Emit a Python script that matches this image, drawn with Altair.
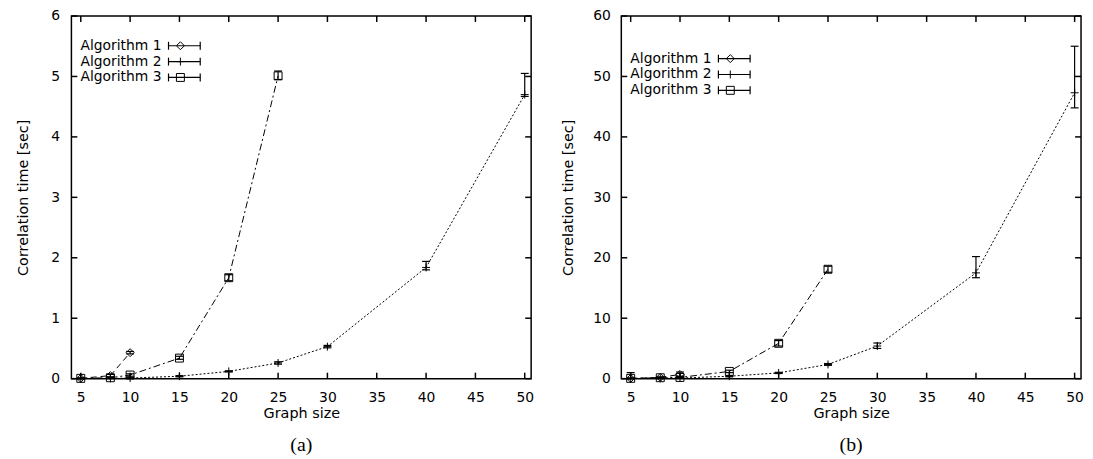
import altair as alt
import pandas as pd

# ---------------- data ----------------
SERIES = ["Algorithm 1", "Algorithm 2", "Algorithm 3"]
X_TICKS = [5, 10, 15, 20, 25, 30, 35, 40, 45, 50]

# panel (a)
A_ALG1_X = [5, 8, 10]
A_ALG1_Y = [0.005, 0.05, 0.43]
A_ALG1_LO = [0.0, 0.03, 0.41]
A_ALG1_HI = [0.01, 0.07, 0.45]

A_ALG2_X = [5, 8, 10, 15, 20, 25, 30, 40, 50]
A_ALG2_Y = [0.002, 0.004, 0.01, 0.04, 0.12, 0.26, 0.53, 1.84, 4.70]
A_ALG2_LO = [0.0, 0.0, 0.005, 0.03, 0.11, 0.24, 0.51, 1.80, 4.67]
A_ALG2_HI = [0.004, 0.008, 0.015, 0.05, 0.13, 0.28, 0.55, 1.94, 5.05]

A_ALG3_X = [5, 8, 10, 15, 20, 25]
A_ALG3_Y = [0.005, 0.015, 0.06, 0.34, 1.67, 5.01]
A_ALG3_LO = [0.0, 0.005, 0.04, 0.32, 1.62, 4.95]
A_ALG3_HI = [0.01, 0.025, 0.08, 0.37, 1.72, 5.09]

A_Y_TICKS = [0, 1, 2, 3, 4, 5, 6]

# panel (b)
B_ALG1_X = [5, 8, 10]
B_ALG1_Y = [0.05, 0.2, 0.7]
B_ALG1_LO = [0.0, 0.1, 0.4]
B_ALG1_HI = [0.1, 0.3, 1.1]

B_ALG2_X = [5, 8, 10, 15, 20, 25, 30, 40, 50]
B_ALG2_Y = [0.02, 0.05, 0.1, 0.4, 0.95, 2.35, 5.4, 17.5, 47.3]
B_ALG2_LO = [0.0, 0.02, 0.05, 0.3, 0.85, 2.2, 5.0, 16.7, 44.8]
B_ALG2_HI = [1.0, 0.1, 0.2, 0.5, 1.05, 2.5, 5.9, 20.2, 55.0]

B_ALG3_X = [5, 8, 10, 15, 20, 25]
B_ALG3_Y = [0.05, 0.15, 0.2, 1.2, 5.85, 18.1]
B_ALG3_LO = [0.0, 0.1, 0.1, 1.0, 5.4, 17.6]
B_ALG3_HI = [0.1, 0.2, 0.3, 1.4, 6.3, 18.6]

B_Y_TICKS = [0, 10, 20, 30, 40, 50, 60]

# ---------------- styling ----------------
W, H = 464, 366
FONT = "DejaVu Sans"
DASHES = [[6, 4], [2, 2], [7, 3, 2, 3]]
SHAPES = ["diamond", "M-1,0L1,0M0,-1L0,1", "square"]
CAP = "M-1,0L1,0"
X_TITLE = "Graph size"
Y_TITLE = "Correlation time [sec]"


def panel(series, y_max, y_ticks, legend_top, caption, label_pad, y_title_pad):
    xs = alt.Scale(domain=[4.05, 50.65], nice=False, zero=False)
    ys = alt.Scale(domain=[0, y_max], nice=False, zero=False)
    xaxis = alt.Axis(values=X_TICKS, ticks=False, domain=False, grid=False,
                     labelPadding=12, titlePadding=2, labelFlush=False,
                     labelOverlap=False, format="d")
    yaxis = alt.Axis(values=y_ticks, ticks=False, domain=False, grid=False,
                     labelPadding=label_pad, titlePadding=y_title_pad, labelFlush=False,
                     labelOverlap=False, format="d")

    def X(f):
        return alt.X(f, type="quantitative", scale=xs, axis=xaxis, title=X_TITLE)

    def Y(f):
        return alt.Y(f, type="quantitative", scale=ys, axis=yaxis, title=Y_TITLE)

    layers = []
    for i, (xv, yv, lo, hi) in enumerate(series):
        df = pd.DataFrame({"x": xv, "y": yv, "lo": lo, "hi": hi})
        base = alt.Chart(df)
        layers.append(base.mark_line(color="black", strokeWidth=1, strokeDash=DASHES[i])
                      .encode(x=X("x"), y=Y("y")))
        layers.append(base.mark_rule(color="black", strokeWidth=1.2)
                      .encode(x=X("x"), y=Y("lo"), y2="hi"))
        layers.append(base.mark_point(shape=CAP, size=64, filled=False, color="black",
                                      strokeWidth=1.2, opacity=1)
                      .encode(x=X("x"), y=Y("lo")))
        layers.append(base.mark_point(shape=CAP, size=64, filled=False, color="black",
                                      strokeWidth=1.2, opacity=1)
                      .encode(x=X("x"), y=Y("hi")))
        layers.append(base.mark_point(shape=SHAPES[i], size=64, filled=False, color="black",
                                      strokeWidth=1, opacity=1)
                      .encode(x=X("x"), y=Y("y")))

    # inward (gnuplot style) ticks on all four sides
    xt = alt.Chart(pd.DataFrame({"t": X_TICKS}))
    yt = alt.Chart(pd.DataFrame({"t": y_ticks}))
    tick = dict(color="black", strokeWidth=1.5)
    layers.append(xt.mark_rule(**tick).encode(x=X("t"), y=alt.value(H), y2=alt.value(H - 6)))
    layers.append(xt.mark_rule(**tick).encode(x=X("t"), y=alt.value(0), y2=alt.value(6)))
    layers.append(yt.mark_rule(**tick).encode(y=Y("t"), x=alt.value(0), x2=alt.value(6)))
    layers.append(yt.mark_rule(**tick).encode(y=Y("t"), x=alt.value(W), x2=alt.value(W - 6)))

    # gnuplot style key: label on the left, errorbar sample on the right
    for i, name in enumerate(SERIES):
        ry = legend_top + 16 * i
        src = alt.Chart(pd.DataFrame({"label": [name]}))
        layers.append(src.mark_text(align="right", baseline="middle", font=FONT,
                                    fontSize=14, color="black")
                      .encode(text="label:N", x=alt.value(91), y=alt.value(ry)))
        layers.append(src.mark_rule(color="black", strokeWidth=1.2)
                      .encode(x=alt.value(98), x2=alt.value(130), y=alt.value(ry)))
        layers.append(src.mark_rule(color="black", strokeWidth=1.2)
                      .encode(x=alt.value(98), y=alt.value(ry - 4), y2=alt.value(ry + 4)))
        layers.append(src.mark_rule(color="black", strokeWidth=1.2)
                      .encode(x=alt.value(130), y=alt.value(ry - 4), y2=alt.value(ry + 4)))
        layers.append(src.mark_point(shape=SHAPES[i], size=64, filled=False, color="black",
                                     strokeWidth=1, opacity=1)
                      .encode(x=alt.value(110), y=alt.value(ry)))

    return alt.layer(*layers).properties(
        width=W, height=H,
        title=alt.TitleParams(caption, orient="bottom", font="Liberation Serif",
                              fontSize=20, fontWeight="normal", frame="group",
                              anchor="middle", offset=16, color="black"),
    )


series_a = [
    (A_ALG1_X, A_ALG1_Y, A_ALG1_LO, A_ALG1_HI),
    (A_ALG2_X, A_ALG2_Y, A_ALG2_LO, A_ALG2_HI),
    (A_ALG3_X, A_ALG3_Y, A_ALG3_LO, A_ALG3_HI),
]
series_b = [
    (B_ALG1_X, B_ALG1_Y, B_ALG1_LO, B_ALG1_HI),
    (B_ALG2_X, B_ALG2_Y, B_ALG2_LO, B_ALG2_HI),
    (B_ALG3_X, B_ALG3_Y, B_ALG3_LO, B_ALG3_HI),
]

left = panel(series_a, 6, A_Y_TICKS, 30, "(a)", 12, 20)
right = panel(series_b, 60, B_Y_TICKS, 43, "(b)", 11, 17)

chart = (
    alt.hconcat(left, right, spacing=25)
    .properties(padding={"left": 7, "top": -2, "right": 0, "bottom": 0})
    .configure_view(stroke="black", strokeWidth=1.5)
    .configure_axis(labelFont=FONT, titleFont=FONT, labelFontSize=14, titleFontSize=14.5,
                    titleFontWeight="normal", labelColor="black", titleColor="black")
)

chart.save("out.html", embed_options={"renderer": "svg", "actions": False})
